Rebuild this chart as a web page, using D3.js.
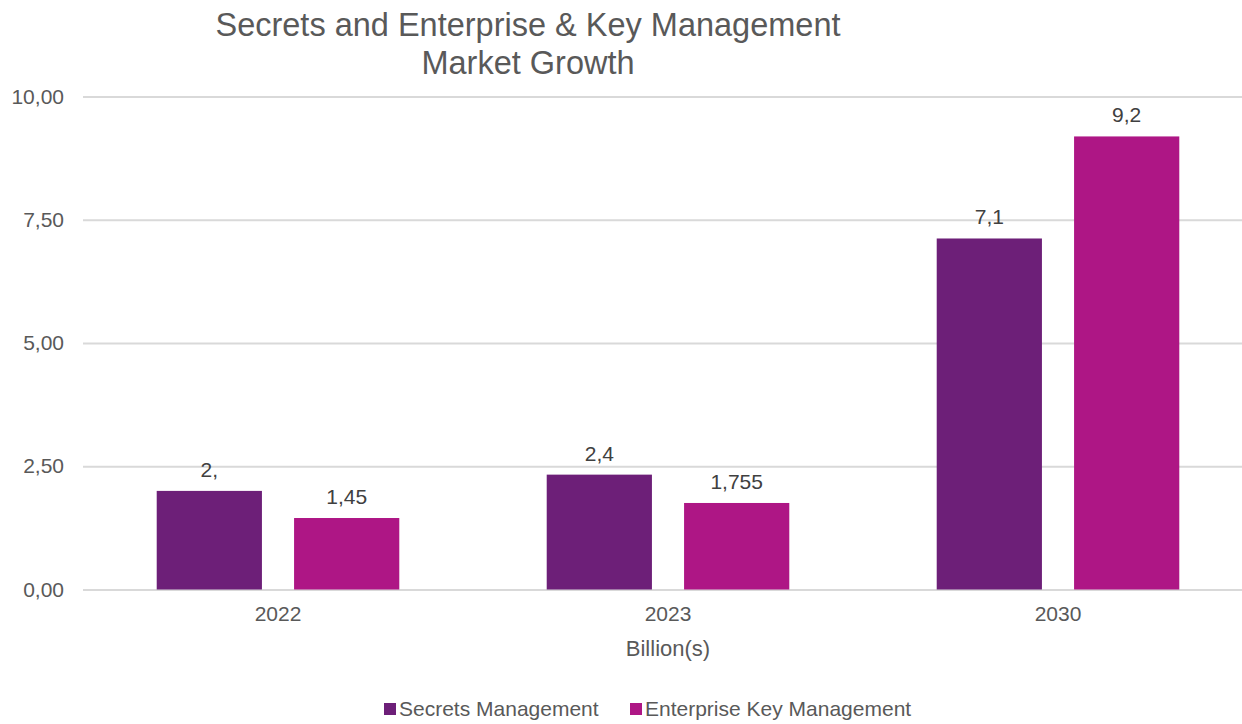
<!DOCTYPE html>
<html>
<head>
<meta charset="utf-8">
<script src="https://cdn.jsdelivr.net/npm/d3@7"></script>
<style>
  body { margin: 0; background: #fff; }
  svg { font-family: "Liberation Sans", Arial, sans-serif; }
</style>
</head>
<body>
<svg id="chart" width="1242" height="724"></svg>
<script>
// data
var years = ["2022", "2023", "2030"];
var seriesNames = ["Secrets Management", "Enterprise Key Management"];
var secretsValues = [2.0, 2.33, 7.12];
var ekmValues = [1.45, 1.755, 9.19];
var secretsLabels = ["2,", "2,4", "7,1"];
var ekmLabels = ["1,45", "1,755", "9,2"];
var yTicks = [0, 2.5, 5, 7.5, 10];
var colors = ["#6d1f78", "#ae1685"];

var svg = d3.select("#chart");

// scales
var x0 = d3.scaleBand()
    .domain(years)
    .range([83, 1253])
    .paddingInner(0.378)
    .paddingOuter(0.189);

var x1 = d3.scaleBand()
    .domain([0, 1])
    .range([0, x0.bandwidth()])
    .paddingInner(0.234);

var y = d3.scaleLinear()
    .domain([0, 10])
    .range([589.5, 96.5]);

// gridlines + y labels
var yAxis = d3.axisLeft(y)
    .tickValues(yTicks)
    .tickSize(-(1242 - 83))
    .tickPadding(19)
    .tickFormat(function(d) { return d3.format(".2f")(d).replace(".", ","); });

var gy = svg.append("g")
    .attr("transform", "translate(83,0)")
    .call(yAxis);
gy.select(".domain").remove();
gy.selectAll(".tick line")
    .attr("stroke", "#d9d9d9")
    .attr("stroke-width", 2);
gy.selectAll(".tick text")
    .attr("fill", "#595959")
    .style("font-size", "21px");

// x labels
var xAxis = d3.axisBottom(x0).tickSize(0).tickPadding(17);
var gx = svg.append("g")
    .attr("transform", "translate(0," + y(0) + ")")
    .call(xAxis);
gx.select(".domain").remove();
gx.selectAll(".tick text")
    .attr("fill", "#595959")
    .style("font-size", "21px");

// bars
var rows = years.map(function(yr, i) {
    return {
        year: yr,
        vals: [
            { s: 0, v: secretsValues[i], label: secretsLabels[i] },
            { s: 1, v: ekmValues[i], label: ekmLabels[i] }
        ]
    };
});

var groups = svg.selectAll("g.group")
    .data(rows)
    .enter()
    .append("g")
    .attr("class", "group")
    .attr("transform", function(d) { return "translate(" + x0(d.year) + ",0)"; });

groups.selectAll("rect")
    .data(function(d) { return d.vals; })
    .enter()
    .append("rect")
    .attr("x", function(d) { return x1(d.s); })
    .attr("y", function(d) { return y(d.v); })
    .attr("width", x1.bandwidth())
    .attr("height", function(d) { return y(0) - y(d.v); })
    .attr("fill", function(d) { return colors[d.s]; });

groups.selectAll("text.val")
    .data(function(d) { return d.vals; })
    .enter()
    .append("text")
    .attr("class", "val")
    .attr("x", function(d) { return x1(d.s) + x1.bandwidth() / 2; })
    .attr("y", function(d) { return y(d.v) - 14; })
    .attr("text-anchor", "middle")
    .attr("fill", "#404040")
    .style("font-size", "21px")
    .text(function(d) { return d.label; });

// title
svg.append("text")
    .attr("x", 528)
    .attr("y", 36)
    .attr("text-anchor", "middle")
    .attr("fill", "#595959")
    .style("font-size", "32.5px")
    .text("Secrets and Enterprise & Key Management");
svg.append("text")
    .attr("x", 528)
    .attr("y", 74)
    .attr("text-anchor", "middle")
    .attr("fill", "#595959")
    .style("font-size", "32.5px")
    .text("Market Growth");

// x axis title
svg.append("text")
    .attr("x", 668)
    .attr("y", 656)
    .attr("text-anchor", "middle")
    .attr("fill", "#595959")
    .style("font-size", "22px")
    .text("Billion(s)");

// legend
var legendX = [384, 630];
var legend = svg.selectAll("g.legend")
    .data(seriesNames)
    .enter()
    .append("g")
    .attr("class", "legend")
    .attr("transform", function(d, i) { return "translate(" + legendX[i] + ",703)"; });
legend.append("rect")
    .attr("width", 12)
    .attr("height", 12)
    .attr("fill", function(d, i) { return colors[i]; });
legend.append("text")
    .attr("x", 15)
    .attr("y", 13)
    .attr("fill", "#595959")
    .style("font-size", "21px")
    .text(function(d) { return d; });
</script>
</body>
</html>
